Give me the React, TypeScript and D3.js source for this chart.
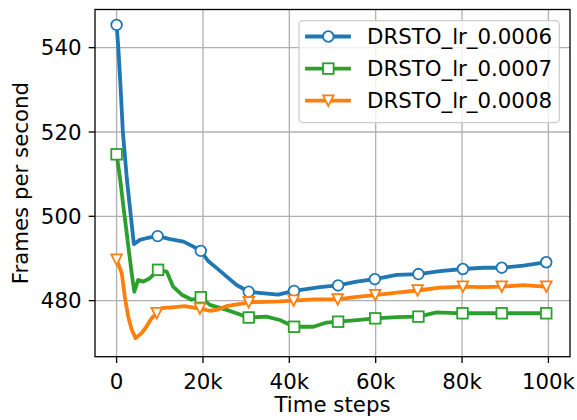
import React from "react";
import * as d3 from "d3";

// Training throughput for three learning rates (time step, frames per second)
const blueSteps = [0, 400, 900, 1450, 2400, 4000, 5400, 6900, 9500, 12400, 15500, 17800, 19500, 21200, 23200, 25500, 27800, 30600, 33600, 37400, 41100, 47100, 51300, 55600, 59800, 64900, 69900, 74900, 80200, 84900, 89200, 94200, 99500];
const blueFps = [545.4, 540.0, 531.0, 520.0, 508.6, 493.4, 494.4, 494.8, 495.3, 494.6, 494.0, 492.8, 491.8, 489.4, 487.7, 485.7, 483.7, 482.1, 481.8, 481.4, 482.3, 483.2, 483.6, 484.5, 485.1, 486.1, 486.3, 487.0, 487.5, 487.8, 487.8, 488.3, 489.1];
const blueMarks = [0, 8, 12, 17, 20, 22, 24, 26, 28, 30, 32];

const greenSteps = [0, 800, 1500, 2700, 3500, 4100, 5000, 6200, 7700, 9600, 11600, 13100, 15100, 17400, 19500, 21600, 25500, 30600, 34700, 37800, 41100, 45600, 48600, 51300, 55600, 59900, 64900, 69900, 74100, 80100, 89200, 99500];
const greenFps = [514.7, 509.0, 503.0, 493.0, 486.5, 482.1, 484.9, 484.5, 485.3, 487.3, 486.9, 483.3, 481.4, 480.2, 480.8, 479.0, 477.8, 476.0, 476.2, 475.4, 473.8, 473.8, 474.8, 475.0, 475.4, 475.8, 476.1, 476.2, 477.2, 477.0, 477.0, 477.0];
const greenMarks = [0, 9, 14, 17, 20, 23, 25, 27, 29, 30, 31];

const orangeSteps = [0, 1200, 1900, 2700, 3500, 4400, 5800, 6900, 8100, 9300, 10400, 12800, 15800, 19300, 21600, 23200, 25500, 28600, 30600, 34800, 37800, 41000, 45600, 51200, 55600, 59900, 64900, 69700, 74900, 80200, 84900, 89200, 94200, 99500];
const orangeFps = [489.7, 486.5, 480.9, 476.2, 473.1, 471.1, 472.3, 473.8, 475.8, 477.0, 478.2, 478.4, 478.7, 478.1, 477.6, 477.8, 478.7, 479.2, 479.6, 479.7, 479.8, 480.0, 480.3, 480.3, 480.9, 481.3, 481.9, 482.4, 483.1, 483.3, 483.2, 483.3, 483.7, 483.3];
const orangeMarks = [0, 9, 13, 18, 21, 23, 25, 27, 29, 31, 33];

const seriesNames = ["DRSTO_lr_0.0006", "DRSTO_lr_0.0007", "DRSTO_lr_0.0008"];
const xTicks = [0, 20000, 40000, 60000, 80000, 100000];
const xTickLabels = ["0", "20k", "40k", "60k", "80k", "100k"];
const yTicks = [480, 500, 520, 540];

const FONT = "'DejaVu Sans', sans-serif";
const FS = 21.3;
const LEFT = 95, RIGHT = 570, TOP = 9.5, BOTTOM = 356.7;
const TICK = 6.3;

type Marker = "circle" | "square" | "tri";

const series = [
  { name: seriesNames[0], steps: blueSteps, fps: blueFps, marks: blueMarks, color: "#1f77b4", marker: "circle" as Marker },
  { name: seriesNames[1], steps: greenSteps, fps: greenFps, marks: greenMarks, color: "#2ca02c", marker: "square" as Marker },
  { name: seriesNames[2], steps: orangeSteps, fps: orangeFps, marks: orangeMarks, color: "#ff7f0e", marker: "tri" as Marker },
];

function MarkerShape({ kind, x, y, color }: { kind: Marker; x: number; y: number; color: string }) {
  const common = { fill: "#ffffff", stroke: color, strokeWidth: 1.8 };
  const h = 5.3;
  if (kind === "circle") return <circle cx={x} cy={y} r={h} {...common} />;
  if (kind === "square") return <rect x={x - h} y={y - h} width={2 * h} height={2 * h} {...common} />;
  return <path d={`M${x - h},${y - h}L${x + h},${y - h}L${x},${y + h}Z`} {...common} strokeLinejoin="miter" />;
}

export default function App() {
  const x = d3.scaleLinear().domain([-5000, 105000]).range([LEFT, RIGHT]);
  const y = d3.scaleLinear().domain([466.7, 549.05]).range([BOTTOM, TOP]);

  const line = d3
    .line<[number, number]>()
    .x((d) => x(d[0]))
    .y((d) => y(d[1]));

  const legendX = 299, legendY = 20.7, legendW = 260.3, legendH = 102;
  const rowY = [36.5, 68.6, 100.7];

  return (
    <svg width={577} height={420} style={{ position: "absolute", left: 0, top: 0, background: "#fff" }} fontFamily={FONT}>
      <defs>
        <clipPath id="plotArea">
          <rect x={LEFT} y={TOP} width={RIGHT - LEFT} height={BOTTOM - TOP} />
        </clipPath>
      </defs>
      <rect x={0} y={0} width={577} height={420} fill="#fff" />

      {/* grid */}
      {xTicks.map((t) => (
        <line key={"gx" + t} x1={x(t)} x2={x(t)} y1={TOP} y2={BOTTOM} stroke="#b0b0b0" strokeWidth={1.3} />
      ))}
      {yTicks.map((t) => (
        <line key={"gy" + t} x1={LEFT} x2={RIGHT} y1={y(t)} y2={y(t)} stroke="#b0b0b0" strokeWidth={1.3} />
      ))}

      {/* series */}
      <g clipPath="url(#plotArea)">
        {series.map((s) => {
          const pts = s.steps.map((st, i) => [st, s.fps[i]] as [number, number]);
          return (
            <path key={s.name} d={line(pts) || ""} fill="none" stroke={s.color} strokeWidth={3.8} strokeLinejoin="round" strokeLinecap="square" />
          );
        })}
        {series.map((s) => (
          <g key={s.name + "-m"}>
            {s.marks.map((i) => (
              <MarkerShape key={i} kind={s.marker} x={x(s.steps[i])} y={y(s.fps[i])} color={s.color} />
            ))}
          </g>
        ))}
      </g>

      {/* spines */}
      <rect x={LEFT} y={TOP} width={RIGHT - LEFT} height={BOTTOM - TOP} fill="none" stroke="#000" strokeWidth={1.3} />

      {/* x axis */}
      {xTicks.map((t, i) => (
        <g key={"xt" + t}>
          <line x1={x(t)} x2={x(t)} y1={BOTTOM} y2={BOTTOM + TICK} stroke="#000" strokeWidth={1.3} />
          <text x={x(t)} y={388.8} textAnchor="middle" fontSize={FS} fill="#000">
            {xTickLabels[i]}
          </text>
        </g>
      ))}
      <text x={(LEFT + RIGHT) / 2} y={412.2} textAnchor="middle" fontSize={FS} fill="#000">
        Time steps
      </text>

      {/* y axis */}
      {yTicks.map((t) => (
        <g key={"yt" + t}>
          <line x1={LEFT - TICK} x2={LEFT} y1={y(t)} y2={y(t)} stroke="#000" strokeWidth={1.3} />
          <text x={81.5} y={y(t)} dy="0.36em" textAnchor="end" fontSize={FS} fill="#000">
            {t}
          </text>
        </g>
      ))}
      <text transform={`translate(28.3,${(TOP + BOTTOM) / 2}) rotate(-90)`} textAnchor="middle" fontSize={FS} fill="#000">
        Frames per second
      </text>

      {/* legend */}
      <rect x={legendX} y={legendY} width={legendW} height={legendH} rx={4} fill="#fff" fillOpacity={0.8} stroke="#cccccc" strokeWidth={1.3} />
      {series.map((s, i) => (
        <g key={s.name + "-leg"}>
          <line x1={307} x2={349} y1={rowY[i]} y2={rowY[i]} stroke={s.color} strokeWidth={3.8} strokeLinecap="square" />
          <MarkerShape kind={s.marker} x={328.3} y={rowY[i]} color={s.color} />
          <text x={367} y={rowY[i]} dy="0.36em" fontSize={FS} fill="#000">
            {s.name}
          </text>
        </g>
      ))}
    </svg>
  );
}
